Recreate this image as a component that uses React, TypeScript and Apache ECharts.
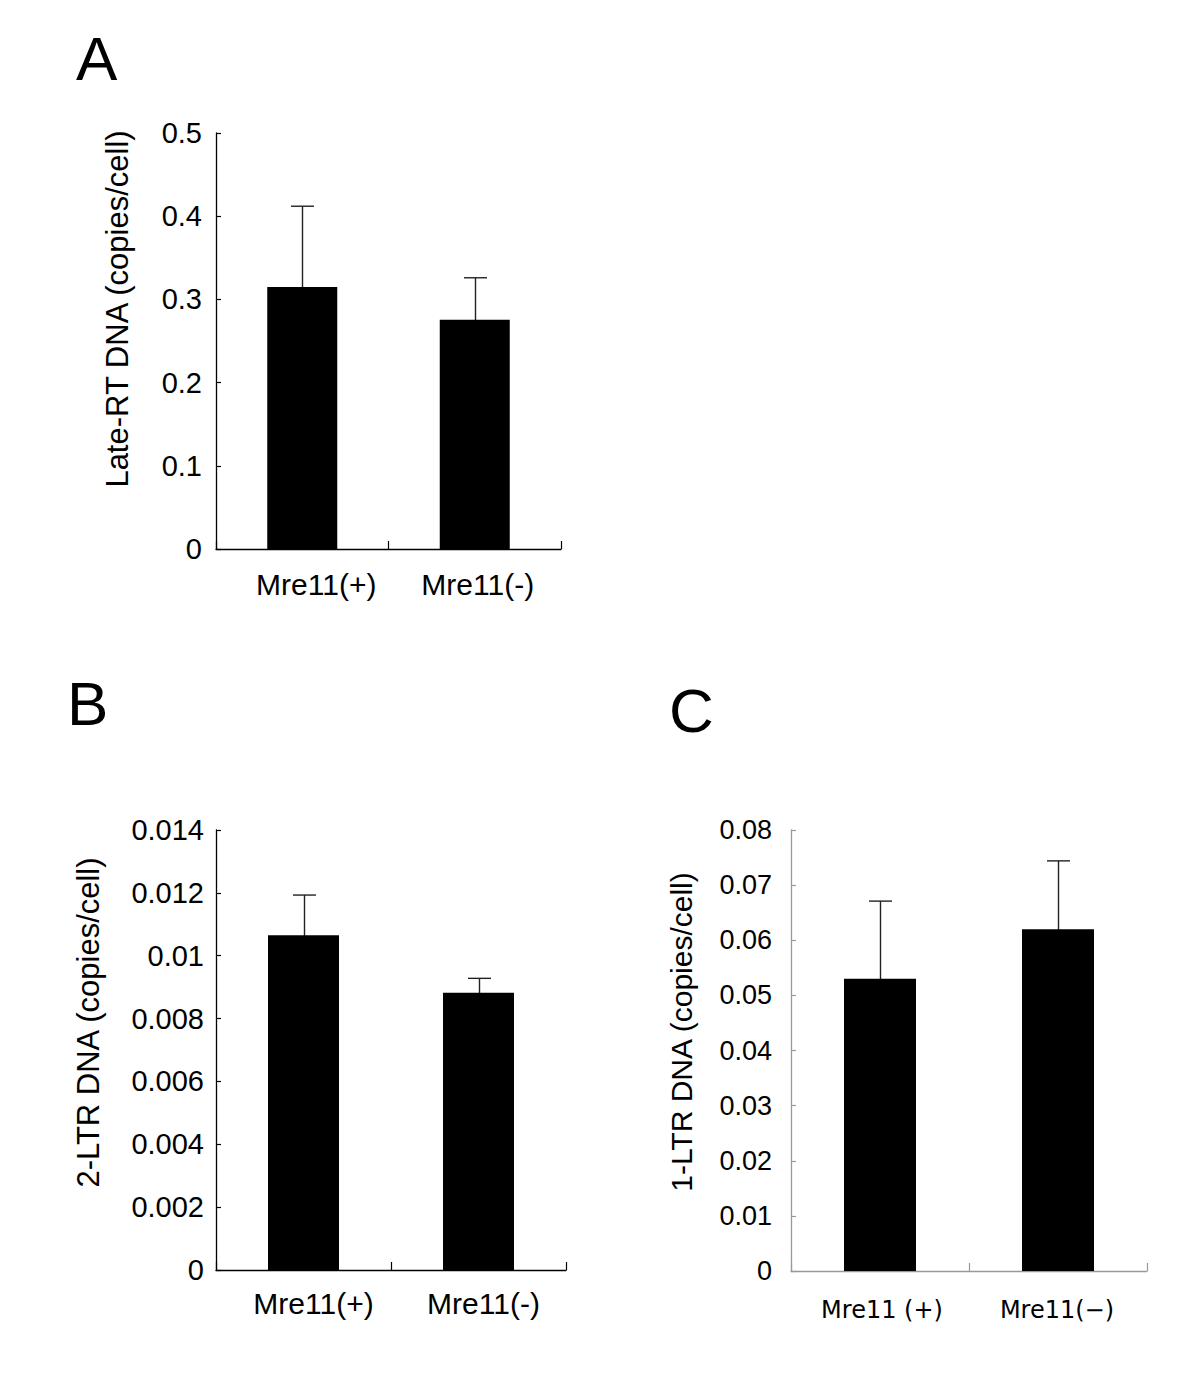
import React, { useEffect, useRef } from "react";
import * as echarts from "echarts";

const categoriesAB = ["Mre11(+)", "Mre11(-)"];
const categoriesC = ["Mre11 (+)", "Mre11(\u2212)"];

const lateRTMean = [0.315, 0.2755];
const lateRTUpper = [0.412, 0.326];
const lateRTTicks = { min: 0, max: 0.5, interval: 0.1 };

const twoLTRMean = [0.01065, 0.00882];
const twoLTRUpper = [0.01193, 0.00928];
const twoLTRTicks = { min: 0, max: 0.014, interval: 0.002 };

const oneLTRMean = [0.053, 0.062];
const oneLTRUpper = [0.0671, 0.0744];
const oneLTRTicks = { min: 0, max: 0.08, interval: 0.01 };

const ARIAL = "Liberation Sans";
const WIDE = "DejaVu Sans";

function errorSeries(idx: number, upper: number[], color: string) {
  return {
    type: "custom",
    xAxisIndex: idx,
    yAxisIndex: idx,
    z: 1,
    data: upper.map((u, i) => [i, u]),
    renderItem: (params: any, api: any) => {
      const i = api.value(0);
      const u = api.value(1);
      const bottom = api.coord([i, 0]);
      const top = api.coord([i, u]);
      const x = Math.round(bottom[0]) + 0.5;
      const half = 11.5;
      return {
        type: "group",
        children: [
          {
            type: "line",
            shape: { x1: x, y1: bottom[1], x2: x, y2: top[1] },
            style: { stroke: color, lineWidth: 1.4 },
          },
          {
            type: "line",
            shape: { x1: x - half, y1: top[1], x2: x + half, y2: top[1] },
            style: { stroke: color, lineWidth: 1.4 },
          },
        ],
      };
    },
  };
}

export default function App() {
  const ref = useRef<HTMLDivElement>(null);
  useEffect(() => {
    if (!ref.current) return;
    const chart = echarts.init(ref.current, undefined, { renderer: "svg" });

    const labelAB = { fontFamily: ARIAL, fontSize: 30, color: "#000" };
    const tickAB = { fontFamily: ARIAL, fontSize: 29, color: "#000" };
    const labelC = { fontFamily: WIDE, fontSize: 24, color: "#000" };
    const tickC = { fontFamily: ARIAL, fontSize: 27, color: "#000" };

    const mkX = (
      idx: number,
      cats: string[],
      shifts: number[],
      axisColor: string,
      label: any,
      margin: number
    ) => ({
      type: "category",
      gridIndex: idx,
      data: cats.map((c, i) => ({
        value: c,
        textStyle: { padding: shifts[i] > 0 ? [0, 0, 0, shifts[i] * 2] : [0, -shifts[i] * 2, 0, 0] },
      })),
      boundaryGap: true,
      axisLine: { show: true, lineStyle: { color: axisColor, width: 1.3 } },
      axisTick: { show: true, inside: true, length: 8, lineStyle: { color: axisColor, width: 1.2 } },
      axisLabel: { ...label, margin },
      splitLine: { show: false },
    });

    const mkY = (
      idx: number,
      t: { min: number; max: number; interval: number },
      axisColor: string,
      label: any,
      margin: number,
      name: string,
      nameFont: any,
      nameGap: number
    ) => ({
      type: "value",
      gridIndex: idx,
      min: t.min,
      max: t.max,
      interval: t.interval,
      axisLine: { show: true, lineStyle: { color: axisColor, width: 1.3 } },
      axisTick: { show: true, inside: true, length: 5, lineStyle: { color: axisColor, width: 1.2 } },
      axisLabel: {
        ...label,
        margin,
        formatter: (v: number) => String(parseFloat(v.toFixed(6))),
      },
      splitLine: { show: false },
      name,
      nameLocation: "middle",
      nameGap,
      nameRotate: 90,
      nameTextStyle: nameFont,
    });

    chart.setOption({
      animation: false,
      backgroundColor: "#fff",
      grid: [
        { left: 216, top: 133, width: 345, height: 416 },
        { left: 216, top: 830, width: 350, height: 440 },
        { left: 791, top: 830, width: 356, height: 441 },
      ],
      xAxis: [
        mkX(0, categoriesAB, [14, 3], "#000", labelAB, 20),
        mkX(1, categoriesAB, [10, 5], "#000", labelAB, 18),
        mkX(2, categoriesC, [2, -1], "#999", labelC, 27),
      ],
      yAxis: [
        mkY(0, lateRTTicks, "#000", tickAB, 14, "Late-RT DNA (copies/cell)",
          { fontFamily: ARIAL, fontSize: 31, color: "#000", padding: [0, 0, 0, 64] }, 83),
        mkY(1, twoLTRTicks, "#000", tickAB, 12, "2-LTR DNA (copies/cell)",
          { fontFamily: ARIAL, fontSize: 31, color: "#000", padding: [0, 0, 0, 55] }, 112),
        mkY(2, oneLTRTicks, "#999", tickC, 19, "1-LTR DNA (copies/cell)",
          { fontFamily: ARIAL, fontSize: 30, color: "#000", padding: [0, 0, 0, 37] }, 95),
      ],
      series: [
        errorSeries(0, lateRTUpper, "#222"),
        errorSeries(1, twoLTRUpper, "#222"),
        errorSeries(2, oneLTRUpper, "#222"),
        { type: "bar", xAxisIndex: 0, yAxisIndex: 0, data: lateRTMean, barWidth: 70, z: 2,
          itemStyle: { color: "#000" } },
        { type: "bar", xAxisIndex: 1, yAxisIndex: 1, data: twoLTRMean, barWidth: 71, z: 2,
          itemStyle: { color: "#000" } },
        { type: "bar", xAxisIndex: 2, yAxisIndex: 2, data: oneLTRMean, barWidth: 72, z: 2,
          itemStyle: { color: "#000" } },
      ],
      graphic: [
        { type: "text", left: 76, top: 27, style: { text: "A", font: `62px '${ARIAL}'`, fill: "#000" } },
        { type: "text", left: 67, top: 672, style: { text: "B", font: `62px '${ARIAL}'`, fill: "#000" } },
        { type: "text", left: 669, top: 679, style: { text: "C", font: `62px '${ARIAL}'`, fill: "#000" } },
      ],
    });
    return () => chart.dispose();
  }, []);
  return (
    <div
      ref={ref}
      style={{ position: "absolute", left: 0, top: 0, width: 1200, height: 1380, background: "#fff" }}
    />
  );
}
